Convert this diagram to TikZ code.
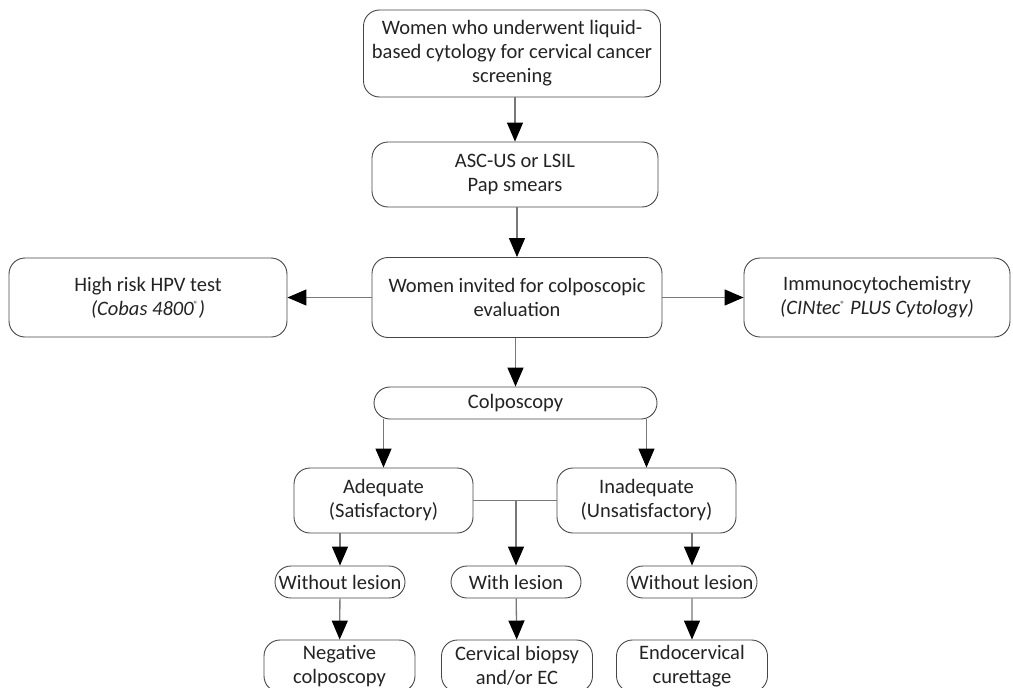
\documentclass[tikz,border=0pt]{standalone}
\usepackage{fontspec}
\setmainfont{Carlito}
\usetikzlibrary{arrows.meta,positioning,shapes.misc}
\definecolor{ink}{RGB}{35,35,35}
\definecolor{frame}{RGB}{70,70,70}
\definecolor{wire}{RGB}{120,120,120}
\newcommand{\regmark}{\textsuperscript{\fontsize{9}{9}\selectfont\upshape ®}}
\tikzset{
  box/.style={draw=frame,line width=0.9pt,rounded corners=16pt,align=center,
    text=ink,inner sep=2pt,minimum width=#1,font=\fontsize{20.5}{24}\selectfont},
  box/.default=150pt,
  pill/.style={draw=frame,line width=0.9pt,rounded rectangle,align=center,
    text=ink,inner sep=2pt,minimum height=32pt,minimum width=#1,
    font=\fontsize{20.5}{24}\selectfont},
  pill/.default=134pt,
  flow/.style={draw=wire,line width=1.3pt,
    arrows={-Triangle[length=19pt,width=16pt,color=black]}},
  link/.style={draw=wire,line width=1.3pt},
}
\begin{document}
\begin{tikzpicture}[x=1pt,y=-1pt]
  \useasboundingbox (0,0) rectangle (1013,688);
  \clip (0,0) rectangle (1013,688);
  % main column
  \node[box=297pt,minimum height=87pt] (screen) at (512,53.5)
    {Women who underwent liquid-\\based cytology for cervical cancer\\screening};
  \node[box=286pt,minimum height=65pt] (pap) at (515,174.5) {ASC-US or LSIL\\Pap smears};
  \node[box=290pt,minimum height=80pt] (invite) at (517,297.5)
    {Women invited for colposcopic\\evaluation};
  \node[box=278pt,minimum height=79pt] (hpv) at (148,297.5)
    {High risk HPV test\\\textit{(Cobas 4800\regmark)}};
  \node[box=266pt,minimum height=79pt] (icc) at (877,297.5)
    {Immunocytochemistry\\\textit{(CINtec\regmark{} PLUS Cytology)}};
  \node[pill=287pt] (colpo) at (515.5,403) {Colposcopy};
  % adequacy
  \node[box=179pt,minimum height=65pt] (adeq) at (383.5,500.5) {Adequate\\(Satisfactory)};
  \node[box=179pt,minimum height=65pt] (inadeq) at (646.5,500.5) {Inadequate\\(Unsatisfactory)};
  \node[pill] (nolesA) at (340,582) {Without lesion};
  \node[pill] (lesion) at (516,582) {With lesion};
  \node[pill] (nolesB) at (692,582) {Without lesion};
  % outcomes
  \node[box=151pt,minimum height=52pt] (neg) at (339.5,666) {Negative\\colposcopy};
  \node[box=151pt,minimum height=52pt] (biopsy) at (517,666) {Cervical biopsy\\and/or EC};
  \node[box=151pt,minimum height=52pt] (ecc) at (692,666) {Endocervical\\curettage};

  \draw[flow] (screen.south -| pap) -- (pap.north);
  \draw[flow] (pap.south -| invite) -- (invite.north);
  \draw[flow] (invite.west) -- (hpv.east);
  \draw[flow] (invite.east) -- (icc.west);
  \draw[flow] (invite.south -| colpo) -- (colpo.north);
  \draw[flow] (colpo.south -| adeq) -- (adeq.north);
  \draw[flow] (colpo.south -| inadeq) -- (inadeq.north);
  \draw[link] (adeq.east) -- (inadeq.west);
  \coordinate (split) at (lesion |- adeq.east);
  \draw[flow] (split) -- (lesion.north);
  \draw[flow] (adeq.south -| nolesA) -- (nolesA.north);
  \draw[flow] (inadeq.south -| nolesB) -- (nolesB.north);
  \draw[flow] (nolesA) -- (neg);
  \draw[flow] (lesion) -- (biopsy);
  \draw[flow] (nolesB) -- (ecc);
\end{tikzpicture}
\end{document}
